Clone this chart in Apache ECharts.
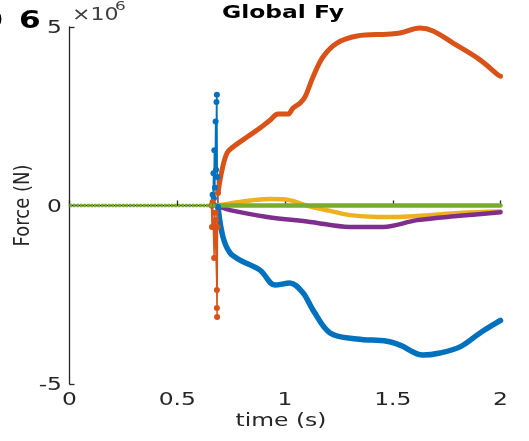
<!DOCTYPE html>
<html><head><meta charset="utf-8">
<script src="https://cdn.jsdelivr.net/npm/echarts@6/dist/echarts.min.js"></script>
<style>html,body{margin:0;padding:0;background:#fff}#c{width:529px;height:441px}</style>
</head><body><div id="c"></div>
<script>
// values in units of 1e6 N
const xTicks = [0, 0.5, 1, 1.5, 2];
const xTickLabels = ['0', '0.5', '1', '1.5', '2'];
const yTicks = [-5, 0, 5];
const yTickLabels = ['-5', '0', '5'];

const blueSpikeT = [0.662,0.664,0.666,0.668,0.670,0.672,0.675,0.678,0.680,0.682,0.684,0.686,0.689];
const blueSpikeV = [0,0.3,0.05,0.9,0.2,1.55,0.5,2.35,1.0,2.9,3.1,0.8,-0.04];
const orangeSpikeT = [0.659,0.661,0.664,0.671,0.674,0.684,0.680,0.684,0.685,0.687,0.689];
const orangeSpikeV = [0,-0.6,0.1,-1.47,-0.2,-2.37,-0.4,-2.87,-3.12,-0.6,0.35];

const blueT = [0.689,0.712,0.745,0.791,0.884,0.954,1.023,1.084,1.130,1.209,1.334,1.473,1.534,1.640,1.719,1.812,1.905,1.988,2.0];
const blueV = [-0.04,-0.88,-1.33,-1.53,-1.81,-2.23,-2.17,-2.45,-2.93,-3.57,-3.74,-3.80,-3.91,-4.19,-4.13,-3.96,-3.57,-3.26,-3.22];

const orangeT = [0.689,0.708,0.731,0.759,0.824,0.884,0.930,0.968,1.014,1.037,1.070,1.093,1.130,1.176,1.241,1.334,1.473,1.534,1.626,1.687,1.780,1.905,1.988,2.0];
const orangeV = [0.35,1.0,1.47,1.64,1.92,2.17,2.39,2.56,2.56,2.73,2.87,3.04,3.60,4.16,4.55,4.75,4.80,4.83,4.97,4.89,4.55,4.08,3.66,3.62];

const yellowT = [0.684,0.79,0.93,1.02,1.10,1.21,1.30,1.43,1.53,1.67,1.81,2.0];
const yellowV = [0,0.1,0.18,0.15,0.0,-0.15,-0.27,-0.32,-0.32,-0.27,-0.21,-0.17];

const purpleT = [0.684,0.745,0.917,1.117,1.30,1.455,1.613,1.81,2.0];
const purpleV = [0,-0.13,-0.32,-0.46,-0.60,-0.60,-0.41,-0.29,-0.19];

const greenDotT = [0, 0.68];
const greenDotV = [0, 0];
const greenT = [0.68, 2];
const greenV = [0, 0];

const zip = (a, b) => a.map((x, i) => [x, b[i]]);
const C = {blue:'#0072BD', orange:'#D95319', yellow:'#EDB120', purple:'#7E2F8E', green:'#77AC30'};
const AX = '#262626';
const FONT = 'DejaVu Sans';
const SX = 1.3; // horizontal stretch of the reference's text

function main(data, color, w) {
  return {type:'line', data, smooth:0.35, showSymbol:false, symbol:'none',
    lineStyle:{color, width:w, cap:'round', join:'round'}, z:2, animation:false};
}
function spike(data, color) {
  return {type:'line', data, smooth:false, symbol:'circle', symbolSize:6, showSymbol:true,
    itemStyle:{color}, lineStyle:{color, width:1.4}, z:2, animation:false};
}

const chart = echarts.init(document.getElementById('c'), null, {renderer:'canvas'});
chart.setOption({
  animation:false,
  grid:{left:69.5, top:27, width:431, height:357, containLabel:false, outerBoundsMode:'none'},
  xAxis:{type:'value', min:0, max:2, interval:0.5,
    axisLine:{show:true, lineStyle:{color:AX, width:1.3}},
    axisTick:{show:true, inside:true, length:5, lineStyle:{color:AX, width:1.3}},
    axisLabel:{show:false}, splitLine:{show:false}},
  yAxis:{type:'value', min:-5, max:5, interval:5,
    axisLine:{show:true, lineStyle:{color:AX, width:1.3}},
    axisTick:{show:true, inside:true, length:5, lineStyle:{color:AX, width:1.3}},
    axisLabel:{show:false}, splitLine:{show:false}},
  series:[
    main(zip(blueT, blueV), C.blue, 5.5),
    spike(zip(blueSpikeT, blueSpikeV), C.blue),
    main(zip(orangeT, orangeV), C.orange, 5),
    spike(zip(orangeSpikeT, orangeSpikeV), C.orange),
    main(zip(yellowT, yellowV), C.yellow, 4.5),
    main(zip(purpleT, purpleV), C.purple, 4.5),
    {type:'line', data:zip(greenDotT, greenDotV), symbol:'none', lineStyle:{color:C.green, width:3.5, type:[2.5,1]}, z:3, animation:false},
    main(zip(greenT, greenV), C.green, 4.5)
  ]
});

// texts (tick labels placed through the axes' own scales)
const g = [];
const txt = (x, y, text, o) => g.push(Object.assign({type:'text', x, y, scaleX:SX, silent:true,
  style:Object.assign({text, fontFamily:FONT, fontSize:18, fill:AX, align:'center', verticalAlign:'middle'}, o || {})}, {}));
xTicks.forEach((v, i) => {
  const p = chart.convertToPixel({xAxisIndex:0}, v);
  txt(p, 400, xTickLabels[i]);
});
yTicks.forEach((v, i) => {
  const p = chart.convertToPixel({yAxisIndex:0}, v);
  txt(62, p + 1.5, yTickLabels[i], {align:'right'});
});
const xMid = chart.convertToPixel({xAxisIndex:0}, 1);
const yMid = chart.convertToPixel({yAxisIndex:0}, 0);
txt(xMid - 4, 421, 'time (s)');
g.push({type:'text', x:24, y:yMid, rotation:Math.PI/2, scaleY:1.15, silent:true,
  style:{text:'Force (N)', fontFamily:FONT, fontSize:18, fill:AX, align:'center', verticalAlign:'middle'}});
txt(xMid - 2, 13, 'Global Fy', {fontWeight:'bold', fill:'#000'});
txt(72, 16, '×10', {fontSize:17, align:'left', fill:'#404040'});
txt(115, 7, '6', {fontSize:13, align:'left', fill:'#404040'});
txt(3, 22, '0', {fontSize:24, fontWeight:'bold', align:'right', fill:'#000'});
txt(19, 22, '6', {fontSize:24, fontWeight:'bold', align:'left', fill:'#000'});
chart.setOption({graphic:g});
</script></body></html>
